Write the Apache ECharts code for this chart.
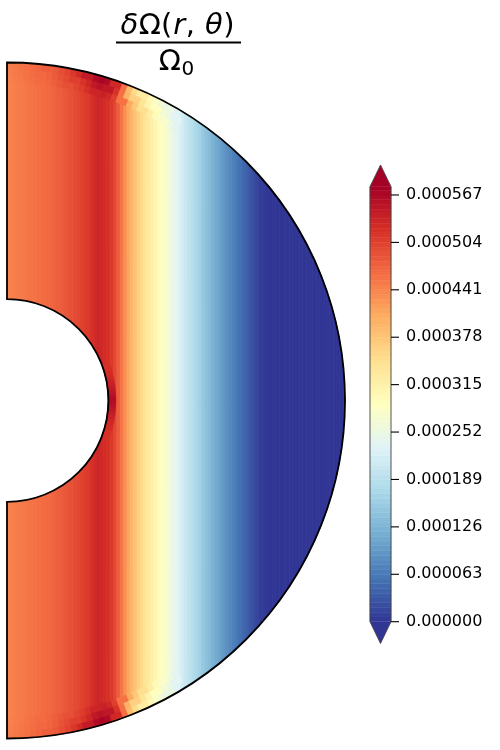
<!DOCTYPE html>
<html>
<head>
<meta charset="utf-8">
<script src="https://cdn.jsdelivr.net/npm/echarts@6.0.0/dist/echarts.min.js"></script>
<style>
  html, body { margin: 0; padding: 0; background: #fff; }
  #chart { width: 500px; height: 750px; }
</style>
</head>
<body>
<div id="chart"></div>
<script>
// shell geometry, radius normalised by the outer radius
const innerRadius = 0.3;

// delta Omega / Omega0 (x 1e-4) against cylindrical radius s, s = 0, 0.01 ... 1
const sStep = 0.01;
const omegaBulk = [
  4.42, 4.44, 4.46, 4.48, 4.50, 4.52, 4.54, 4.56, 4.58, 4.60,
  4.62, 4.64, 4.66, 4.69, 4.72, 4.75, 4.78, 4.82, 4.86, 4.90,
  4.94, 4.98, 5.02, 5.07, 5.12, 5.18, 5.26, 5.32, 5.30, 5.25,
  5.20, 5.12, 4.98, 4.78, 4.55, 4.32, 4.12, 3.95, 3.80, 3.66,
  3.53, 3.40, 3.28, 3.17, 3.06, 2.96, 2.86, 2.76, 2.64, 2.52,
  2.40, 2.28, 2.16, 2.05, 1.94, 1.84, 1.74, 1.64, 1.53, 1.43,
  1.33, 1.23, 1.14, 1.05, 0.96, 0.87, 0.78, 0.70, 0.62, 0.54,
  0.46, 0.38, 0.30, 0.22, 0.14, 0.07, 0.03, 0.01, 0, 0,
  0, 0, 0, 0, 0, 0, 0, 0, 0, 0,
  0, 0, 0, 0, 0, 0, 0, 0, 0, 0,
  0
];

// layer under the outer sphere (x 1e-4), one row per radial band, s = 0, 0.02 ... 0.5
const edgeStep = 0.02;
const edgeRadii = [0.94, 0.96, 0.98, 0.996];
const edgeRows = [
  [4.44, 4.48, 4.52, 4.56, 4.60, 4.64, 4.69, 4.75, 4.82, 4.90, 4.99, 5.08, 5.20,
   5.33, 5.38, 5.30, 5.05, 4.58, 4.08, 3.74, 3.46, 3.21, 2.99, 2.79, 2.60, 2.38],
  [4.46, 4.50, 4.54, 4.58, 4.62, 4.67, 4.72, 4.79, 4.87, 4.96, 5.06, 5.17, 5.32,
   5.48, 5.55, 5.48, 5.18, 4.60, 4.00, 3.64, 3.36, 3.11, 2.90, 2.71, 2.56, 2.36],
  [4.48, 4.52, 4.56, 4.60, 4.65, 4.70, 4.76, 4.83, 4.92, 5.02, 5.14, 5.28, 5.46,
   5.64, 5.72, 5.66, 5.30, 4.62, 3.90, 3.52, 3.24, 3.00, 2.80, 2.62, 2.50, 2.33]
];
const edgeThetaStep = 1; // degrees of colatitude per cell

// layer on the inner sphere near the equator (x 1e-4), colatitude 71 ... 109 deg
const innerLayerRadii = [0.3, 0.322];
const innerLayerTheta = [71, 73, 75, 77, 79, 81, 83, 85, 87, 89, 91, 93, 95, 97, 99, 101, 103, 105, 107, 109];
const innerLayer = [5.20, 5.22, 5.25, 5.29, 5.33, 5.38, 5.44, 5.50, 5.58, 5.64,
                    5.64, 5.58, 5.50, 5.44, 5.38, 5.33, 5.29, 5.25, 5.22, 5.20];

// colour bar
const cbMax = 0.000578;
const cbLevelStep = 0.0000063;
const cbTicks = [0, 0.000063, 0.000126, 0.000189, 0.000252, 0.000315, 0.000378, 0.000441, 0.000504, 0.000567];
const rdylbu_r = ['#313695', '#4575b4', '#74add1', '#abd9e9', '#e0f3f8', '#ffffbf',
                  '#fee090', '#fdae61', '#f46d43', '#d73027', '#a50026'];

const bulkData = omegaBulk.map((v, i) => [i * sStep, 0, v * 1e-4]);

// sector cells: [r0, r1, theta0 (deg), theta1 (deg), value]
const layerData = [];
edgeRows.forEach((row, b) => {
  const rMid = (edgeRadii[b] + edgeRadii[b + 1]) / 2;
  for (let k = 0; k < 180 / edgeThetaStep; k++) {
    const th = (k + 0.5) * edgeThetaStep * Math.PI / 180;
    const idx = Math.round(rMid * Math.sin(th) / edgeStep);
    if (idx < row.length) {
      layerData.push([edgeRadii[b], edgeRadii[b + 1], k * edgeThetaStep, (k + 1) * edgeThetaStep, row[idx] * 1e-4]);
    }
  }
});
innerLayerTheta.forEach((t, i) => {
  layerData.push([innerLayerRadii[0], innerLayerRadii[1], t - 1, t + 1, innerLayer[i] * 1e-4]);
});

const cbData = [];
for (let lo = 0; lo < cbMax - 1e-12; lo += cbLevelStep) {
  const hi = Math.min(cbMax, lo + cbLevelStep);
  cbData.push([lo, hi, (lo + hi) / 2]);
}

function zOut(s) { return Math.sqrt(Math.max(0, 1 - s * s)); }
function zIn(s) { return Math.sqrt(Math.max(0, innerRadius * innerRadius - s * s)); }

function renderStrip(params, api) {
  const s = api.value(0);
  const s0 = Math.max(0, s - sStep / 2), s1 = Math.min(1, s + sStep / 2);
  let polys;
  if (s1 <= innerRadius) {
    polys = [
      [[s0, zIn(s0)], [s0, zOut(s0)], [s1, zOut(s1)], [s1, zIn(s1)]],
      [[s0, -zIn(s0)], [s0, -zOut(s0)], [s1, -zOut(s1)], [s1, -zIn(s1)]]
    ];
  } else if (s0 >= innerRadius) {
    polys = [[[s0, zOut(s0)], [s1, zOut(s1)], [s1, -zOut(s1)], [s0, -zOut(s0)]]];
  } else {
    polys = [[[s0, zOut(s0)], [s1, zOut(s1)], [s1, -zOut(s1)], [s0, -zOut(s0)],
              [s0, -zIn(s0)], [innerRadius, 0], [s0, zIn(s0)]]];
  }
  const color = api.visual('color');
  return {
    type: 'group',
    children: polys.map(p => ({
      type: 'polygon',
      shape: { points: p.map(pt => api.coord(pt)) },
      style: { fill: color, stroke: color, lineWidth: 0.8 }
    }))
  };
}

function renderCell(params, api) {
  const c = api.coord([0, 0]);
  const a0 = -Math.PI / 2 + api.value(2) * Math.PI / 180;
  const a1 = -Math.PI / 2 + api.value(3) * Math.PI / 180;
  const color = api.visual('color');
  return {
    type: 'sector',
    shape: {
      cx: c[0], cy: c[1],
      r0: api.size([api.value(0), 0])[0], r: api.size([api.value(1), 0])[0],
      startAngle: a0, endAngle: a1, clockwise: true
    },
    style: { fill: color, stroke: color, lineWidth: 0.6 }
  };
}

function renderOutline(params, api) {
  const c = api.coord([0, 0]);
  return {
    type: 'sector',
    shape: {
      cx: c[0], cy: c[1], r0: api.size([innerRadius, 0])[0], r: api.size([1, 0])[0],
      startAngle: -Math.PI / 2, endAngle: Math.PI / 2, clockwise: true
    },
    style: { fill: null, stroke: '#000', lineWidth: 1.8 }
  };
}

function renderBand(params, api) {
  const p1 = api.coord([0, api.value(1)]);
  const p0 = api.coord([1, api.value(0)]);
  const color = api.visual('color');
  return {
    type: 'rect',
    shape: { x: p1[0], y: p1[1], width: p0[0] - p1[0], height: p0[1] - p1[1] },
    style: { fill: color, stroke: color, lineWidth: 0.5 }
  };
}

function capPoints(api, top) {
  const ext = 0.05 * api.size([0, cbMax])[1];
  if (top) {
    const a = api.coord([0, cbMax]), b = api.coord([1, cbMax]);
    return [a, b, [(a[0] + b[0]) / 2, a[1] - ext]];
  }
  const a = api.coord([0, 0]), b = api.coord([1, 0]);
  return [a, b, [(a[0] + b[0]) / 2, a[1] + ext]];
}

function renderCap(params, api) {
  return {
    type: 'polygon',
    shape: { points: capPoints(api, api.value(0) === 1) },
    style: { fill: api.visual('color') }
  };
}

function renderFrame(params, api) {
  const t = capPoints(api, true), b = capPoints(api, false);
  const children = [{
    type: 'polygon',
    shape: { points: [t[2], t[1], b[1], b[2], b[0], t[0]] },
    style: { fill: null, stroke: '#444', lineWidth: 0.9 }
  }];
  cbTicks.forEach(v => {
    const p = api.coord([1, v]);
    children.push({
      type: 'line',
      shape: { x1: p[0], y1: p[1], x2: p[0] + 8, y2: p[1] },
      style: { stroke: '#000', lineWidth: 1.1 }
    });
  });
  return { type: 'group', children };
}

const chart = echarts.init(document.getElementById('chart'));
chart.setOption({
  animation: false,
  backgroundColor: '#fff',
  grid: [
    { left: 7, top: 62.5, width: 338, height: 676 },
    { left: 370, top: 186.7, width: 21, height: 435 }
  ],
  xAxis: [
    { type: 'value', min: 0, max: 1, show: false, gridIndex: 0 },
    { type: 'value', min: 0, max: 1, show: false, gridIndex: 1 }
  ],
  yAxis: [
    { type: 'value', min: -1, max: 1, show: false, gridIndex: 0 },
    {
      type: 'value', gridIndex: 1, min: 0, max: cbMax, position: 'right',
      axisLine: { show: false },
      splitLine: { show: false },
      axisTick: { show: false },
      axisLabel: {
        customValues: cbTicks, margin: 15, color: '#000',
        fontFamily: 'DejaVu Sans', fontSize: 16,
        formatter: v => v.toFixed(6)
      }
    }
  ],
  visualMap: [{
    type: 'continuous', show: false, min: 0, max: cbMax, dimension: 2,
    seriesIndex: [0, 3, 4], inRange: { color: rdylbu_r }
  }, {
    // the layer cells keep their value in dimension 4
    type: 'continuous', show: false, min: 0, max: cbMax, dimension: 4,
    seriesIndex: [1], inRange: { color: rdylbu_r }
  }],
  graphic: [
    {
      type: 'text', x: 177, y: 26.5, z: 10,
      style: {
        text: '{a|δ}{b|Ω(}{a|r}{c|,}{a|θ}{b|)}',
        align: 'center', verticalAlign: 'middle',
        rich: {
          a: { fontFamily: 'DejaVu Sans', fontStyle: 'italic', fontSize: 29, fill: '#000', padding: [0, 0.5, 0, 1] },
          b: { fontFamily: 'DejaVu Sans', fontSize: 29, fill: '#000' },
          c: { fontFamily: 'DejaVu Sans', fontSize: 29, fill: '#000', padding: [0, 9, 0, 0] }
        }
      }
    },
    {
      type: 'line', z: 10,
      shape: { x1: 116, y1: 42.5, x2: 241, y2: 42.5 },
      style: { stroke: '#000', lineWidth: 2 }
    },
    {
      type: 'text', x: 181, y: 62.5, z: 10,
      style: { text: 'Ω', align: 'right', verticalAlign: 'middle', fontFamily: 'DejaVu Sans', fontSize: 29, fill: '#000' }
    },
    {
      type: 'text', x: 181.5, y: 70, z: 10,
      style: { text: '0', align: 'left', verticalAlign: 'middle', fontFamily: 'DejaVu Sans', fontSize: 20, fill: '#000' }
    }
  ],
  series: [
    { type: 'custom', name: 'bulk', xAxisIndex: 0, yAxisIndex: 0, renderItem: renderStrip, data: bulkData, z: 1 },
    {
      type: 'custom', name: 'layers', xAxisIndex: 0, yAxisIndex: 0, renderItem: renderCell, data: layerData, z: 2,
      encode: { x: 0, y: 1 }
    },
    { type: 'custom', name: 'outline', xAxisIndex: 0, yAxisIndex: 0, renderItem: renderOutline, data: [[0, 0, 0]], z: 3 },
    { type: 'custom', name: 'cbBands', xAxisIndex: 1, yAxisIndex: 1, renderItem: renderBand, data: cbData, z: 1 },
    { type: 'custom', name: 'cbCaps', xAxisIndex: 1, yAxisIndex: 1, renderItem: renderCap, data: [[0, 0, 0], [1, cbMax, cbMax]], z: 1 },
    { type: 'custom', name: 'cbFrame', xAxisIndex: 1, yAxisIndex: 1, renderItem: renderFrame, data: [[0, 0, 0]], z: 2 }
  ]
});
</script>
</body>
</html>
